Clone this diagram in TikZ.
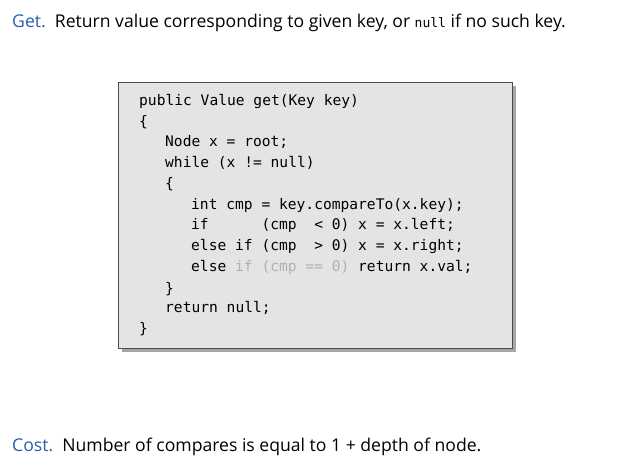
\documentclass[tikz,border=0pt]{standalone}
\usepackage{fontspec}
\setmainfont{Open Sans}
\setmonofont{DejaVu Sans Mono}
\definecolor{titleblue}{HTML}{2A5DB0}
\definecolor{boxfill}{HTML}{E4E4E4}
\definecolor{faded}{HTML}{B0B0B0}
\begin{document}
\begin{tikzpicture}[x=1pt,y=-1pt,
  code/.style={anchor=west,inner sep=0pt,font=\fontsize{14.6}{16}\selectfont\ttfamily},
  prose/.style={anchor=west,inner sep=0pt,font=\fontsize{17.6}{20}\selectfont}]
\useasboundingbox (0,0) rectangle (619,473);
\fill[gray!70] (122,86) rectangle (516,352);
\draw[fill=boxfill,draw=gray!60!black,line width=0.6pt] (118,82) rectangle (512,348);
\node[prose] (t1) at (12,23) {\textcolor{titleblue}{Get.}\ \ Return value corresponding to given key, or {\ttfamily\fontsize{13}{14}\selectfont null} if no such key.};
\node[code] (c1) at (139,101) {public Value get(Key key)};
\node[code] (c2) at (139,122) {\{};
\node[code] (c3) at (165,142) {Node x = root;};
\node[code] (c4) at (165,163) {while (x != null)};
\node[code] (c5) at (165,184) {\{};
\node[code] (c6) at (191,205) {int cmp = key.compareTo(x.key);};
\node[code] (c7) at (191,225) {if\ \ \ \ \ \ (cmp\ \ < 0) x = x.left;};
\node[code] (c8) at (191,246) {else if (cmp\ \ > 0) x = x.right;};
\node[code] (c9) at (191,267) {else \textcolor{faded}{if (cmp == 0)} return x.val;};
\node[code] (c10) at (165,289) {\}};
\node[code] (c11) at (165,308) {return null;};
\node[code] (c12) at (139,329) {\}};
\node[prose] (t2) at (12,447) {\textcolor{titleblue}{Cost.}\ \ Number of compares is equal to 1 + depth of node.};
\end{tikzpicture}
\end{document}
